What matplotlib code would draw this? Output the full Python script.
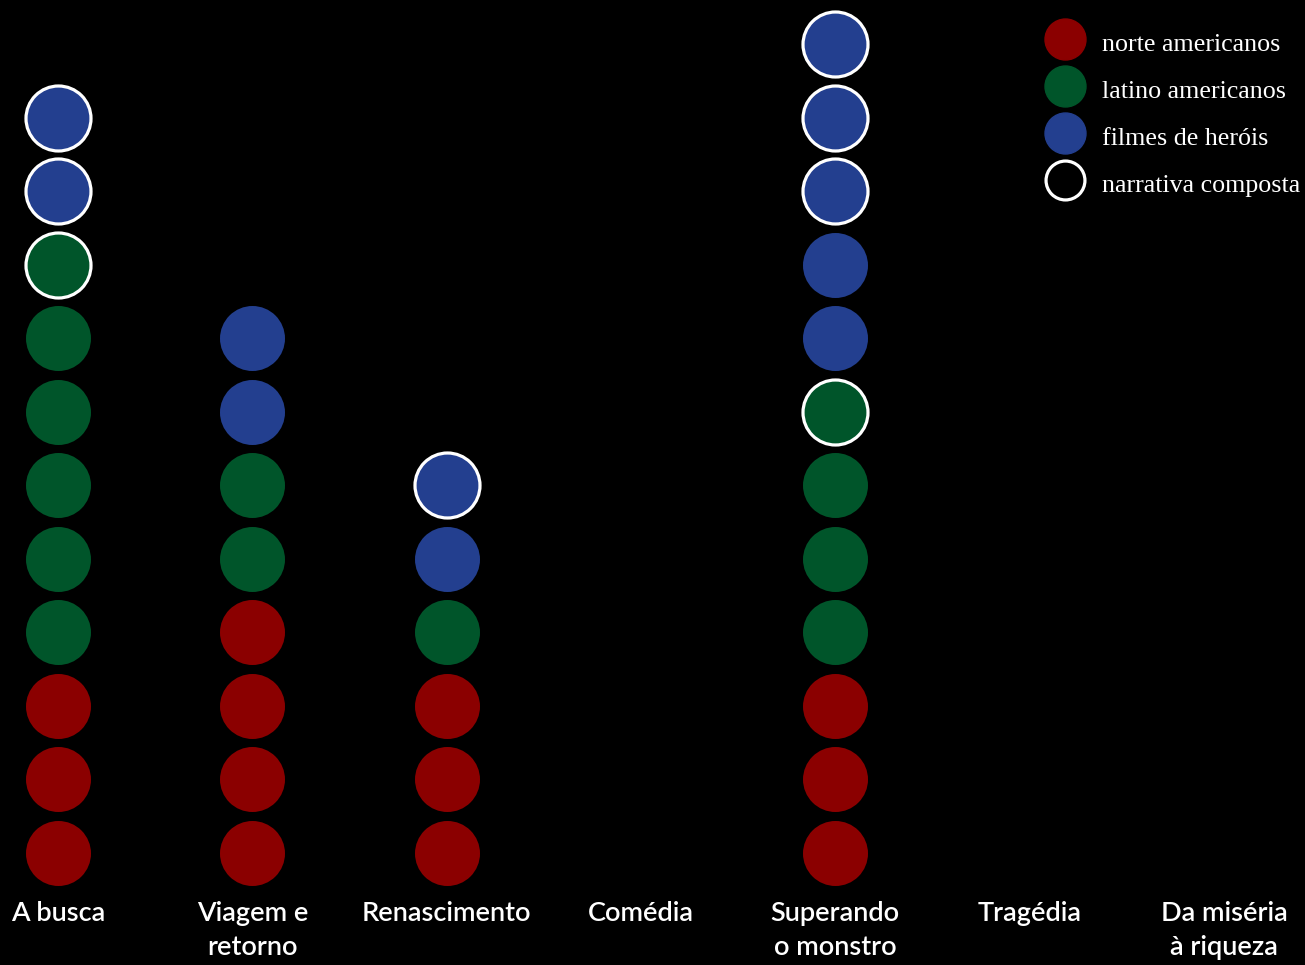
import matplotlib.pyplot as plt
from matplotlib.lines import Line2D
from matplotlib.transforms import blended_transform_factory

categories = ["A busca", "Viagem e\nretorno", "Renascimento", "Comédia",
              "Superando\no monstro", "Tragédia", "Da miséria\nà riqueza"]
norte = [3, 4, 3, 0, 3, 0, 0]
latino = [6, 2, 1, 0, 4, 0, 0]
herois = [2, 2, 2, 0, 5, 0, 0]
# how many of the top dots in each group are "narrativa composta"
comp_latino = [1, 0, 0, 0, 1, 0, 0]
comp_herois = [2, 0, 1, 0, 3, 0, 0]

red = "#8b0000"
green = "#00552a"
blue = "#233f8f"

fig = plt.figure(figsize=(13.05, 9.65), dpi=100, facecolor="black")
ax = fig.add_axes([0, 0, 1, 1])
ax.set_facecolor("black")
ax.set_xlim(-0.2985, 6.417)
ax.set_ylim(-1.524, 11.605)
ax.axis("off")

size = 2190
for i in range(len(categories)):
    groups = [(norte[i], 0, red), (latino[i], comp_latino[i], green),
              (herois[i], comp_herois[i], blue)]
    level = 0
    for n, comp, col in groups:
        for k in range(n):
            edge = "white" if k >= n - comp else col
            lw = 2.3 if k >= n - comp else 0
            ax.scatter(i, level, s=size, c=col, edgecolors=edge, linewidths=lw, zorder=3)
            level += 1

tr = blended_transform_factory(ax.transData, ax.transAxes)
for i, lab in enumerate(categories):
    ax.text(i, 1 - 901 / 965, lab, transform=tr, ha="center", va="top",
            color="white", fontsize=19.5, family="Lato", weight="semibold",
            linespacing=1.47)

handles = [
    Line2D([], [], ls="", marker="o", ms=29.5, mfc=red, mec=red, label="norte americanos"),
    Line2D([], [], ls="", marker="o", ms=29.5, mfc=green, mec=green, label="latino americanos"),
    Line2D([], [], ls="", marker="o", ms=29.5, mfc=blue, mec=blue, label="filmes de heróis"),
    Line2D([], [], ls="", marker="o", ms=28, mfc="black", mec="white", mew=2.3,
           label="narrativa composta"),
]
leg = ax.legend(handles=handles, loc="upper left", bbox_to_anchor=(1044 / 1305, 1 - 27 / 965),
                bbox_transform=fig.transFigure, frameon=False, borderaxespad=0,
                borderpad=0, handlelength=1.6, handleheight=1.4, handletextpad=0.62,
                labelspacing=0.66, prop={"family": "Liberation Serif", "size": 18.7})
for t in leg.get_texts():
    t.set_color("white")

fig.savefig("out.png", dpi=100, facecolor="black")
